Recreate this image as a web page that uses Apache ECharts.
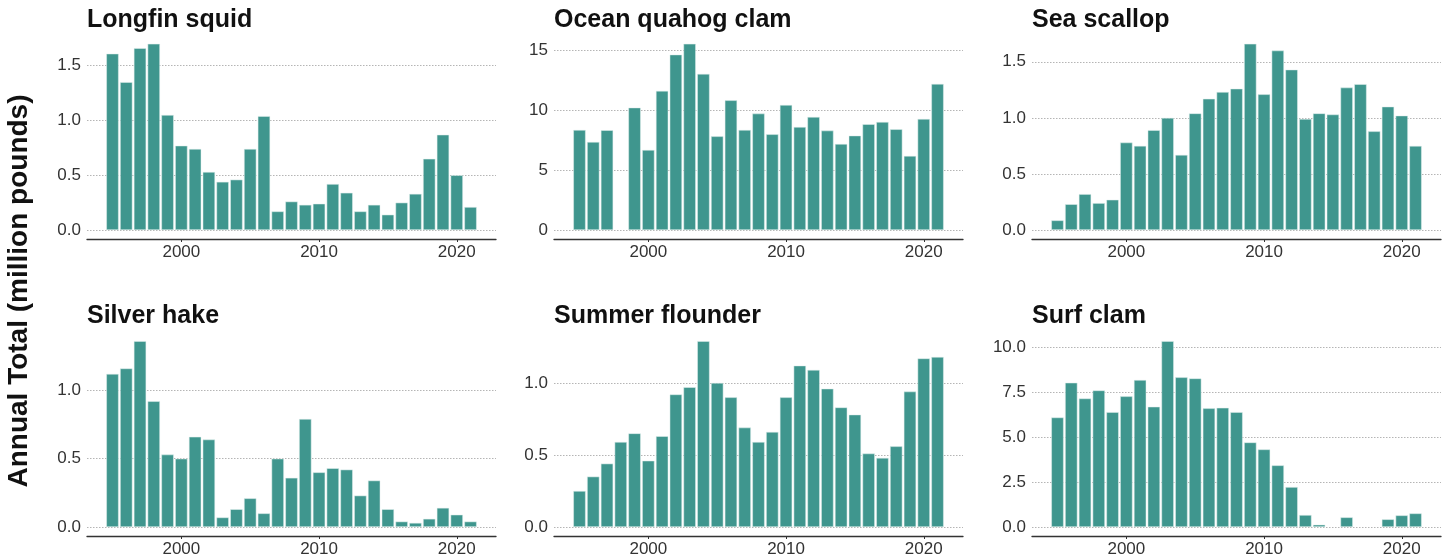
<!DOCTYPE html>
<html>
<head>
<meta charset="utf-8">
<script src="https://cdn.jsdelivr.net/npm/echarts@6/dist/echarts.min.js"></script>
<style>
  html, body { margin: 0; padding: 0; background: #ffffff; }
  #chart { width: 1450px; height: 559px; }
</style>
</head>
<body>
<div id="chart"></div>
<script>
// Annual landings, 1995-2021, in million pounds (null = no landings reported)
const years = [1995, 1996, 1997, 1998, 1999, 2000, 2001, 2002, 2003, 2004, 2005, 2006, 2007, 2008,
               2009, 2010, 2011, 2012, 2013, 2014, 2015, 2016, 2017, 2018, 2019, 2020, 2021];

const longfinSquid = [1.61, 1.35, 1.66, 1.70, 1.05, 0.77, 0.74, 0.53, 0.44, 0.46, 0.74, 1.04, 0.17, 0.26,
                      0.23, 0.24, 0.42, 0.34, 0.17, 0.23, 0.14, 0.25, 0.33, 0.65, 0.87, 0.50, 0.21];
const oceanQuahog = [8.36, 7.36, 8.34, null, 10.23, 6.69, 11.63, 14.66, 15.56, 13.05, 7.83, 10.84, 8.36, 9.73,
                     8.00, 10.45, 8.61, 9.45, 8.31, 7.19, 7.89, 8.84, 9.03, 8.42, 6.19, 9.28, 12.21];
const seaScallop = [0.086, 0.23, 0.32, 0.24, 0.27, 0.78, 0.75, 0.89, 1.00, 0.67, 1.04, 1.17, 1.23, 1.26,
                    1.66, 1.21, 1.60, 1.43, 0.99, 1.04, 1.03, 1.27, 1.30, 0.88, 1.10, 1.02, 0.75];
const silverHake = [1.12, 1.16, 1.36, 0.92, 0.53, 0.50, 0.66, 0.64, 0.07, 0.13, 0.21, 0.10, 0.50, 0.36,
                    0.79, 0.40, 0.43, 0.42, 0.23, 0.34, 0.13, 0.04, 0.03, 0.06, 0.14, 0.09, 0.04];
const summerFlounder = [0.25, 0.35, 0.44, 0.59, 0.65, 0.46, 0.63, 0.92, 0.97, 1.29, 1.00, 0.90, 0.69, 0.59,
                        0.66, 0.90, 1.12, 1.09, 0.96, 0.83, 0.78, 0.51, 0.48, 0.56, 0.94, 1.17, 1.18];
const surfClam = [6.11, 8.05, 7.17, 7.62, 6.41, 7.29, 8.20, 6.71, 10.37, 8.35, 8.29, 6.62, 6.65, 6.41,
                  4.72, 4.33, 3.44, 2.23, 0.67, 0.13, null, 0.54, null, null, 0.43, 0.65, 0.76];

// Panel titles and y tick labels
const speciesNames = ['Longfin squid', 'Ocean quahog clam', 'Sea scallop',
                      'Silver hake', 'Summer flounder', 'Surf clam'];
const yTickLongfin = ['0.0', '0.5', '1.0', '1.5'];
const yTickQuahog = ['0', '5', '10', '15'];
const yTickScallop = ['0.0', '0.5', '1.0', '1.5'];
const yTickHake = ['0.0', '0.5', '1.0'];
const yTickFlounder = ['0.0', '0.5', '1.0'];
const yTickSurf = ['0.0', '2.5', '5.0', '7.5', '10.0'];
const xTickYears = [2000, 2010, 2020];
const yAxisTitle = 'Annual Total (million pounds)';

const panelValues = [longfinSquid, oceanQuahog, seaScallop, silverHake, summerFlounder, surfClam];
const panelTicks = [yTickLongfin, yTickQuahog, yTickScallop, yTickHake, yTickFlounder, yTickSurf];

// Layout of the 2x3 facet grid (pixels)
const colLeft = [87, 554, 1032];
const panelWidth = 409;
const rowZero = [230, 527];     // y of the zero line in each row
const rowTop = [34.5, 331.8];   // top of the plotting region in each row
const axisGap = 9;              // axis line sits below the zero line
const titleTop = [2.5, 299];

const xMin = 1993.15, xMax = 2022.85;
const barColor = '#3f968e';
const textColor = '#333333';
const baseFont = '"Liberation Sans", Arial, Helvetica, sans-serif';

const grids = [], xAxes = [], yAxes = [], series = [], titles = [];

panelValues.forEach((vals, i) => {
  const row = Math.floor(i / 3), col = i % 3;
  const ticks = panelTicks[i];
  const step = parseFloat(ticks[1]) - parseFloat(ticks[0]);
  const decimals = (ticks[1].split('.')[1] || '').length;
  const dataMax = Math.max(...vals.filter(v => v !== null));

  grids.push({
    left: colLeft[col],
    top: rowTop[row],
    width: panelWidth,
    height: rowZero[row] - rowTop[row]
  });

  xAxes.push({
    type: 'value',
    gridIndex: i,
    min: xMin,
    max: xMax,
    offset: axisGap,
    splitLine: { show: false },
    axisLine: { show: true, onZero: false, lineStyle: { color: '#333333', width: 1.3 } },
    axisTick: {
      show: true,
      length: 3,
      customValues: xTickYears,
      lineStyle: { color: '#333333', width: 1 }
    },
    axisLabel: {
      customValues: xTickYears,
      formatter: v => String(v),
      color: textColor,
      fontSize: 17,
      fontFamily: baseFont,
      margin: 5
    }
  });

  yAxes.push({
    type: 'value',
    gridIndex: i,
    min: 0,
    max: dataMax * 1.05,
    interval: step,
    axisLine: { show: false },
    axisTick: { show: false },
    splitLine: {
      show: true,
      showMaxLine: false,
      lineStyle: { color: '#b5b5b5', type: [1.5, 1.5], width: 1 }
    },
    axisLabel: {
      showMaxLabel: false,
      formatter: v => v.toFixed(decimals),
      color: textColor,
      fontSize: 17,
      fontFamily: baseFont,
      margin: 6
    }
  });

  const barWidth = 0.9 * panelWidth / (xMax - xMin);
  series.push({
    type: 'bar',
    xAxisIndex: i,
    yAxisIndex: i,
    barWidth: barWidth,
    data: years.map((y, k) => [y, vals[k]]).filter(d => d[1] !== null),
    itemStyle: {
      color: barColor,
      borderColor: 'rgba(225,240,238,0.85)',
      borderWidth: 0.6
    },
    silent: true,
    animation: false
  });

  titles.push({
    text: speciesNames[i],
    left: colLeft[col] - 5,
    top: titleTop[row],
    textStyle: {
      fontFamily: baseFont,
      fontWeight: 'bold',
      fontSize: 25,
      color: '#111111'
    }
  });
});

const chart = echarts.init(document.getElementById('chart'), null, { renderer: 'canvas' });
chart.setOption({
  animation: false,
  backgroundColor: '#ffffff',
  title: titles,
  grid: grids,
  xAxis: xAxes,
  yAxis: yAxes,
  series: series,
  graphic: [{
    type: 'text',
    x: 19,
    y: 291,
    rotation: Math.PI / 2,
    style: {
      text: yAxisTitle,
      fontFamily: baseFont,
      fontWeight: 'bold',
      fontSize: 28,
      fill: '#111111',
      align: 'center',
      verticalAlign: 'middle'
    }
  }]
});
</script>
</body>
</html>
